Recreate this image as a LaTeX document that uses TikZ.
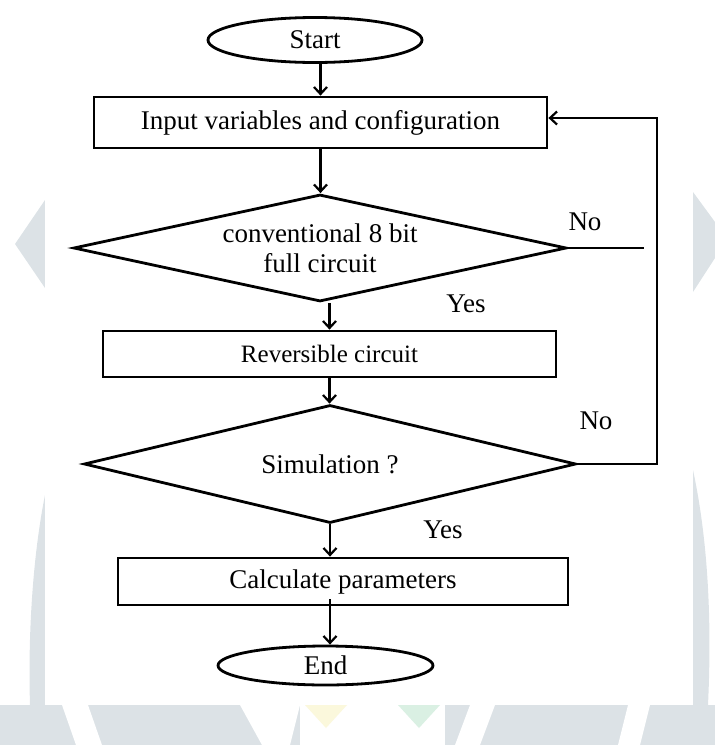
\documentclass[tikz,border=0pt]{standalone}
\usepackage{fontspec}
\setmainfont{Liberation Serif}
\usetikzlibrary{shapes.geometric,arrows.meta}
\definecolor{wmgray}{HTML}{DCE2E6}
\definecolor{wmyellow}{HTML}{FBF8DC}
\definecolor{wmgreen}{HTML}{DAF0E3}

\begin{document}
\begin{tikzpicture}[x=1pt, y=-1pt,
    flow/.style={line width=2.8pt},
    box/.style={flow, draw, rectangle, inner sep=0pt, font=\fontsize{27}{30}\selectfont},
    terminal/.style={flow, draw, ellipse, inner sep=0pt, font=\fontsize{27}{30}\selectfont},
    decision/.style={flow, draw, diamond, aspect=4.6, inner sep=0pt, align=center, font=\fontsize{27}{30}\selectfont},
    arr/.style={flow, -{Straight Barb[length=7pt,width=13pt,line width=2.2pt]}},
    lbl/.style={inner sep=0pt, font=\fontsize{27}{30}\selectfont}]
    \useasboundingbox (0,0) rectangle (715,745);
    % watermark behind the chart
    \fill[wmgray] (45,200) -- (15,244) -- (45,288) -- cycle;
    \fill[wmgray] (693,192) -- (715,222) -- (715,258) -- (693,292) -- cycle;
    \fill[wmgray] (45,495) .. controls (32,560) and (28,640) .. (30,705) -- (45,705) -- cycle;
    \fill[wmgray] (693,470) .. controls (708,540) and (712,620) .. (708,705) -- (693,705) -- cycle;
    \fill[wmgray] (0,705) rectangle (715,745);
    \fill[white] (62,705) -- (88,705) -- (102,745) -- (76,745) -- cycle;
    \fill[white] (240,705) -- (300,705) -- (290,745) -- (262,745) -- cycle;
    \fill[white] (300,705) rectangle (445,745);
    \fill[white] (470,705) -- (495,705) -- (480,745) -- (455,745) -- cycle;
    \fill[white] (628,705) -- (650,705) -- (640,745) -- (618,745) -- cycle;
    \fill[wmyellow] (305,705) -- (347,705) -- (326,728) -- cycle;
    \fill[wmgreen] (398,705) -- (440,705) -- (419,728) -- cycle;
    \fill[white] (45,0) rectangle (693,705);

    \node[terminal, minimum width=214pt, minimum height=45pt] (start) at (315,40) {Start};
    \node[box, minimum width=453pt, minimum height=51pt] (input) at (320.5,122.5) {Input variables and configuration};
    \node[decision, minimum width=493pt, minimum height=107pt] (conv) at (320,248) {conventional 8 bit\\full circuit};
    \node[box, minimum width=453pt, minimum height=46pt, font=\fontsize{25}{28}\selectfont] (rev) at (329.5,354) {Reversible circuit};
    \node[decision, minimum width=492pt, minimum height=118pt] (sim) at (330,464) {Simulation ?};
    \node[box, minimum width=450pt, minimum height=47pt] (calc) at (343,581.5) {Calculate parameters};
    \node[terminal, minimum width=215pt, minimum height=39pt] (end) at (325.5,665.5) {End};

    \node[lbl] (no1) at (585,222) {No};
    \node[lbl] (yes1) at (466,304) {Yes};
    \node[lbl] (no2) at (596,421) {No};
    \node[lbl] (yes2) at (443,530) {Yes};

    \coordinate (noend) at (644,248);
    \coordinate (loopbot) at (657,464);
    \coordinate (looptop) at (657,118);
    \coordinate (calcout) at ([yshift=7pt]calc.south);

    \draw[arr] (input.north |- start.south) -- (input.north);
    \draw[arr] (input.south) -- (input.south |- conv.north);
    \draw[arr] (rev.north |- conv.south) -- (rev.north);
    \draw[arr] (rev.south) -- (rev.south |- sim.north);
    \draw[arr] (sim.south) -- (sim.south |- calc.north);
    \draw[arr] (calcout -| sim.south) -- (sim.south |- end.north);
    \draw[flow] (conv.east) -- (noend);
    \draw[arr] (sim.east) -- (loopbot) -- (looptop) -- (looptop -| input.east);
\end{tikzpicture}
\end{document}
